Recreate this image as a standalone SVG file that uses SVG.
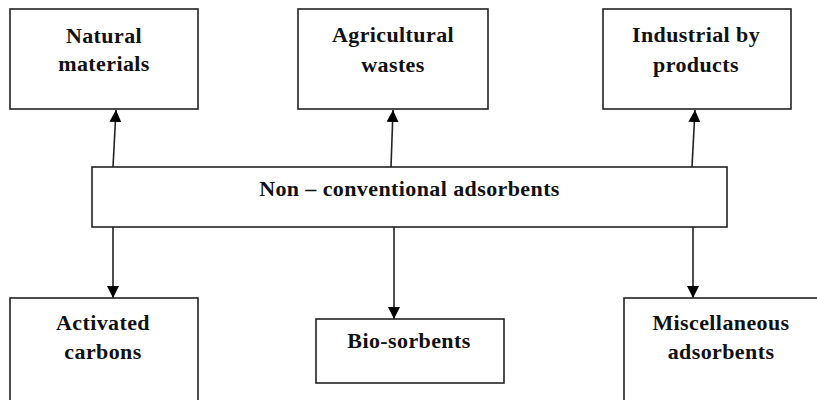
<svg xmlns="http://www.w3.org/2000/svg" width="817" height="400" viewBox="0 0 817 400">
<style>
.box{fill:#fff;stroke:#222;stroke-width:1.6}
.t{font-family:'Liberation Serif','DejaVu Serif',serif;font-weight:bold;font-size:22px;fill:#111;text-anchor:middle;letter-spacing:0.4px}
.c{stroke:#222;stroke-width:1.6;fill:none;marker-end:url(#ah)}
</style>
<defs>
<marker id="ah" viewBox="0 0 12 12" refX="12" refY="6" markerWidth="12" markerHeight="12" markerUnits="userSpaceOnUse" orient="auto">
<path d="M0,0 L12,6 L0,12 Z" fill="#000"/>
</marker>
</defs>
<rect width="817" height="400" fill="#fff"/>
<g id="connectors">
<path class="c" d="M113,167 L116,110"/>
<path class="c" d="M391,167 L393,110"/>
<path class="c" d="M692,167 L695,110"/>
<path class="c" d="M113,227 L113,298"/>
<path class="c" d="M394,227 L394,319"/>
<path class="c" d="M693,227 L693,298"/>
</g>
<g id="natural">
<rect class="box" x="10" y="9" width="188" height="100"/>
<text class="t" x="104" y="43">Natural</text>
<text class="t" x="104" y="71">materials</text>
</g>
<g id="agricultural">
<rect class="box" x="298" y="9" width="190" height="100"/>
<text class="t" x="393" y="42">Agricultural</text>
<text class="t" x="393" y="72">wastes</text>
</g>
<g id="industrial">
<rect class="box" x="603" y="9" width="188" height="100"/>
<text class="t" x="696" y="42">Industrial by</text>
<text class="t" x="696" y="72">products</text>
</g>
<g id="nonconventional">
<rect class="box" x="92" y="167" width="635" height="60"/>
<text class="t" x="409.5" y="196">Non – conventional adsorbents</text>
</g>
<g id="activated">
<rect class="box" x="10" y="298" width="188" height="110"/>
<text class="t" x="103" y="330">Activated</text>
<text class="t" x="103" y="359">carbons</text>
</g>
<g id="biosorbents">
<rect class="box" x="316" y="319" width="188" height="64"/>
<text class="t" x="409" y="348">Bio-sorbents</text>
</g>
<g id="miscellaneous">
<rect class="box" x="624" y="298" width="200" height="110"/>
<text class="t" x="721" y="330">Miscellaneous</text>
<text class="t" x="721" y="359">adsorbents</text>
</g>
</svg>
